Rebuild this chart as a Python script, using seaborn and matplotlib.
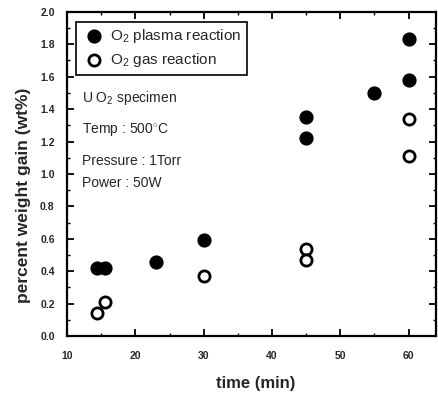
import matplotlib
matplotlib.use("Agg")
import matplotlib.pyplot as plt
import seaborn as sns
import pandas as pd
from matplotlib.ticker import MultipleLocator, FormatStrFormatter

# data
plasma_time = [14.4, 15.6, 23, 30, 45, 45, 55, 60, 60]
plasma_gain = [0.42, 0.42, 0.46, 0.59, 1.35, 1.22, 1.50, 1.83, 1.58]
gas_time = [14.4, 15.6, 30, 45, 45, 60, 60]
gas_gain = [0.14, 0.21, 0.37, 0.54, 0.47, 1.34, 1.11]
labels = ["O$_2$ plasma reaction", "O$_2$ gas reaction"]
notes = ["U O$_2$ specimen", "Temp : 500$^{\\circ}$C", "Pressure : 1Torr", "Power : 50W"]

sns.set_theme(style="ticks")
plt.rcParams['font.family'] = ['Liberation Sans', 'DejaVu Sans']
plt.rcParams['mathtext.fontset'] = 'custom'
plt.rcParams['mathtext.rm'] = 'Liberation Sans'
plt.rcParams['mathtext.it'] = 'Liberation Sans'

df_p = pd.DataFrame({"time": plasma_time, "gain": plasma_gain})
df_g = pd.DataFrame({"time": gas_time, "gain": gas_gain})

fig = plt.figure(figsize=(4.39, 3.94), dpi=100)
ax = fig.add_axes([0.153, 0.147, 0.840, 0.823])

sns.scatterplot(data=df_p, x="time", y="gain", ax=ax, s=85, color="black",
                edgecolor="black", linewidth=1, label=labels[0])
sns.scatterplot(data=df_g, x="time", y="gain", ax=ax, s=65, facecolor="white",
                edgecolor="black", linewidth=2.0, label=labels[1])

ax.set_xlim(10, 64)
ax.set_ylim(0, 2.0)
ax.xaxis.set_major_locator(MultipleLocator(10))
ax.xaxis.set_minor_locator(MultipleLocator(5))
ax.yaxis.set_major_locator(MultipleLocator(0.2))
ax.yaxis.set_minor_locator(MultipleLocator(0.1))
ax.yaxis.set_major_formatter(FormatStrFormatter("%.1f"))
ax.tick_params(which="both", direction="in", top=True, right=True,
               labelright=False, labeltop=False, color="black")
ax.tick_params(which="major", length=5, width=1.3, labelsize=7.5)
ax.tick_params(which="minor", length=2.5, width=1)
ax.tick_params(axis="x", which="major", pad=11)
ax.tick_params(axis="y", which="major", pad=9)
for lbl in ax.get_xticklabels() + ax.get_yticklabels():
    lbl.set_fontweight("bold")
for sp in ax.spines.values():
    sp.set_linewidth(1.6)
    sp.set_visible(True)
    sp.set_color("black")

ax.set_xlabel("time (min)", fontsize=12, fontweight="bold", va="center")
ax.xaxis.set_label_coords(0.51, -0.145)
ax.set_ylabel("percent weight gain (wt%)", fontsize=12.5, fontweight="bold", va="center")
ax.yaxis.set_label_coords(-0.119, 0.435)

leg = ax.legend(loc="upper left", bbox_to_anchor=(0.024, 0.969), fontsize=11,
                frameon=True, fancybox=False, edgecolor="black", framealpha=1,
                handlelength=1.6, handletextpad=0.3, borderpad=0.35,
                labelspacing=0.4, borderaxespad=0)
leg.get_frame().set_linewidth(1.2)

ys = [0.735, 0.636, 0.540, 0.472]
for t, yy in zip(notes, ys):
    ax.text(0.04, yy, t, transform=ax.transAxes, fontsize=10, va="center", ha="left")

fig.savefig("out.png", dpi=100)
